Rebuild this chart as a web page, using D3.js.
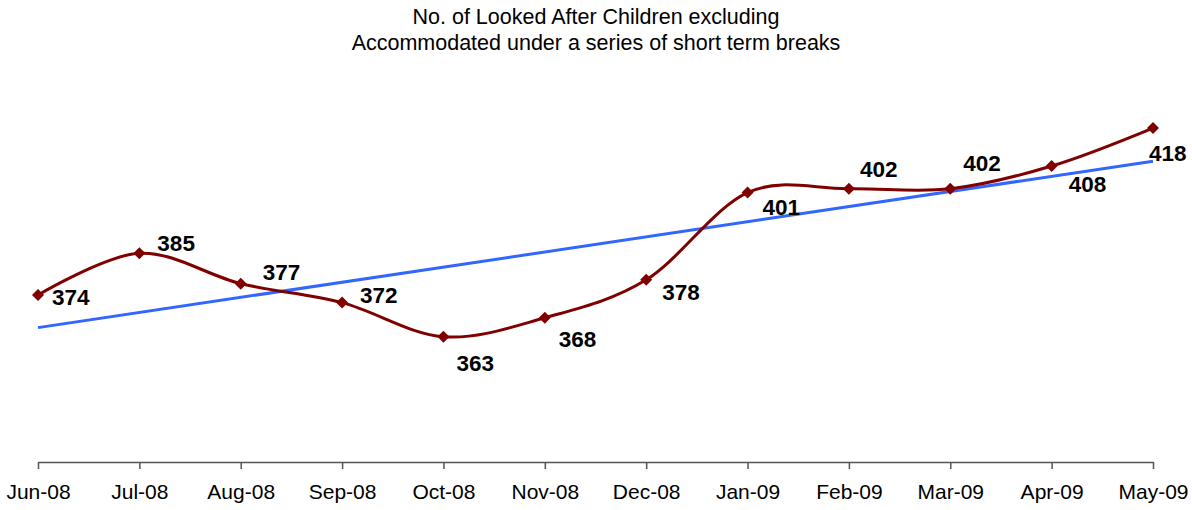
<!DOCTYPE html>
<html><head><meta charset="utf-8">
<script src="https://cdn.jsdelivr.net/npm/d3@7"></script>
<style>body{margin:0;background:#fff}svg{display:block}text{font-family:"Liberation Sans",Arial,sans-serif}</style>
</head><body><svg id="c" width="1192" height="510"></svg>
<script>
const categories = ["Jun-08","Jul-08","Aug-08","Sep-08","Oct-08","Nov-08","Dec-08","Jan-09","Feb-09","Mar-09","Apr-09","May-09"];
const values = [374,385,377,372,363,368,378,401,402,402,408,418];
const titleLines = ["No. of Looked After Children excluding","Accommodated under a series of short term breaks"];
// label offsets (dx, dy of baseline) relative to each point
const labelDx = [14,18,22,18,13,14,16,15,11,13,17,-4];
const labelDy = [10,-2,-4,0,34,29,20,22,-12,-18,26,33];

const svg = d3.select("#c");
const x = d3.scalePoint().domain(categories).range([38,1153]);
const y = d3.scaleLinear().domain([330,450]).range([462,6.6]);

svg.selectAll("text.title").data(titleLines).join("text")
  .attr("x",596).attr("y",(d,i)=>24+i*26).attr("text-anchor","middle")
  .attr("font-size",21.5).attr("fill","#000").text(d=>d);

// axis
const ax = svg.append("g").attr("transform","translate(0,462)")
  .call(d3.axisBottom(x).tickSize(7).tickPadding(15).tickSizeOuter(0));
ax.select(".domain").attr("stroke","#555").attr("stroke-width",1.5);
ax.selectAll(".tick line").attr("stroke","#555").attr("stroke-width",1.5);
ax.selectAll(".tick text").attr("font-size",21).attr("fill","#000")
  .attr("font-family","'Liberation Sans',Arial,sans-serif");

// trendline (least squares)
const n = values.length;
const idx = d3.range(n);
const mx = d3.mean(idx), my = d3.mean(values);
const slope = d3.sum(idx,i=>(i-mx)*(values[i]-my))/d3.sum(idx,i=>(i-mx)*(i-mx));
const icpt = my - slope*mx;
svg.append("line")
  .attr("x1",x(categories[0])).attr("y1",y(icpt))
  .attr("x2",x(categories[n-1])).attr("y2",y(icpt+slope*(n-1)))
  .attr("stroke","#3366FF").attr("stroke-width",3);

// smoothed line
const line = d3.line().x((d,i)=>x(categories[i])).y(d=>y(d)).curve(d3.curveCatmullRom.alpha(0));
svg.append("path").datum(values).attr("d",line).attr("fill","none")
  .attr("stroke","#800000").attr("stroke-width",3);

// markers
svg.selectAll("path.m").data(values).join("path").attr("class","m")
  .attr("d",d3.symbol(d3.symbolSquare,72))
  .attr("transform",(d,i)=>`translate(${x(categories[i])},${y(d)}) rotate(45)`)
  .attr("fill","#800000");

// labels
svg.selectAll("text.lbl").data(values).join("text").attr("class","lbl")
  .attr("x",(d,i)=>x(categories[i])+labelDx[i]).attr("y",(d,i)=>y(d)+labelDy[i])
  .attr("font-size",22.5).attr("font-weight","bold").attr("fill","#000").text(d=>d);
</script></body></html>
